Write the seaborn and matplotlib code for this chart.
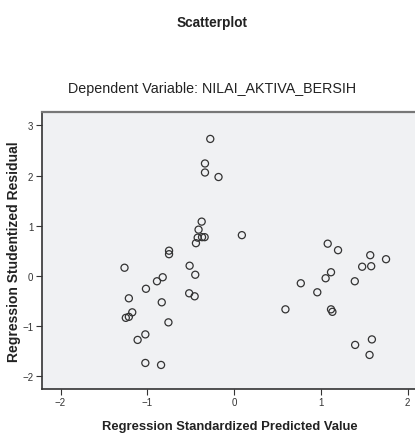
import numpy as np
import matplotlib
matplotlib.use("Agg")
import matplotlib.pyplot as plt
import seaborn as sns
import pandas as pd

# standardized predicted value (x) and studentized residual (y)
pred = [-0.275, -0.336, -0.336, -0.18, -0.374, -0.41, -0.42, -0.37, -0.34, -0.44,
        -0.75, -0.75, -1.263, -0.513, -0.448, -0.823, -0.889, -1.016, -1.213, -0.518,
        -0.455, -0.834, -1.174, -1.213, -1.248, -0.757, -1.023, -1.112, -1.023, -0.842,
        0.089, 1.078, 1.197, 1.568, 1.75, 1.475, 1.579, 1.116, 1.054, 0.768,
        1.39, 0.958, 0.591, 1.116, 1.132, 1.587, 1.394, 1.56]
resid = [2.73, 2.24, 2.06, 1.97, 1.08, 0.92, 0.76, 0.77, 0.77, 0.65,
         0.50, 0.43, 0.16, 0.20, 0.02, -0.03, -0.11, -0.26, -0.45, -0.35,
         -0.41, -0.53, -0.73, -0.82, -0.84, -0.93, -1.17, -1.28, -1.74, -1.78,
         0.81, 0.64, 0.51, 0.41, 0.33, 0.18, 0.19, 0.07, -0.05, -0.15,
         -0.11, -0.33, -0.67, -0.67, -0.72, -1.27, -1.38, -1.58]
xticks = [-2, -1, 0, 1, 2]
yticks = [-2, -1, 0, 1, 2, 3]

df = pd.DataFrame({"pred": pred, "resid": resid})

sns.set_style("ticks")
plt.rcParams['font.family'] = ['Liberation Sans', 'DejaVu Sans']

fig = plt.figure(figsize=(4.15, 4.35), dpi=100)
ax = fig.add_axes([0.1005, 0.1034, 0.905, 0.636])
ax.set_facecolor("#f0f1f3")

sns.scatterplot(data=df, x="pred", y="resid", ax=ax, marker="o", s=26,
                facecolors="none", edgecolor="#333333", linewidth=0.9)

ax.set_xlim(-2.217, 2.11)
ax.set_ylim(-2.26, 3.26)
ax.set_xticks(xticks)
ax.set_yticks(yticks)
ax.tick_params(labelsize=7, length=4, width=0.8, colors="#333333", pad=2)

for side in ["left", "bottom"]:
    ax.spines[side].set_color("#333333")
    ax.spines[side].set_linewidth(1.2)
ax.spines["top"].set_color("#777777")
ax.spines["top"].set_linewidth(1.6)
ax.spines["right"].set_visible(False)

ax.set_xlabel("Regression Standardized Predicted Value", fontsize=9.4,
              fontweight="bold", color="#222222", labelpad=9)
ax.set_ylabel("Regression Studentized Residual", fontsize=10,
              fontweight="bold", color="#222222")
ax.yaxis.set_label_coords(-0.055, 0.5)

fig.text(0.511, 0.948, "Scatterplot", ha="center", va="center",
         fontsize=9.8, fontweight="bold", color="#222222")
fig.text(0.511, 0.796, "Dependent Variable: NILAI_AKTIVA_BERSIH", ha="center",
         va="center", fontsize=10.3, color="#222222")

fig.savefig("out.png", dpi=100)
